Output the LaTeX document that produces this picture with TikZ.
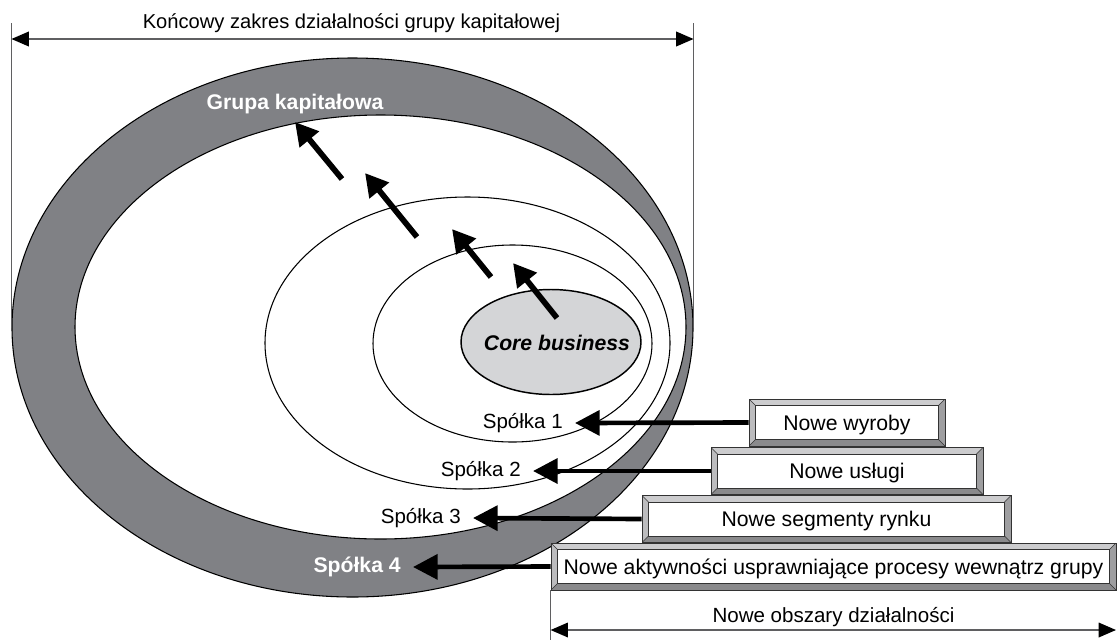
\documentclass[tikz,border=0pt]{standalone}
\usepackage{fontspec}
\setmainfont{Liberation Sans}
\usetikzlibrary{shapes.geometric, arrows.meta, positioning}

\definecolor{grupagray}{RGB}{128,129,133}
\definecolor{coregray}{RGB}{212,213,215}
\definecolor{bevtop}{RGB}{204,204,206}
\definecolor{bevside}{RGB}{188,188,190}
\definecolor{bevright}{RGB}{158,158,160}
\definecolor{bevdark}{RGB}{138,138,140}
\definecolor{dimgray}{RGB}{95,95,97}

\tikzset{
  ring/.style={ellipse, draw=black, line width=0.8pt, inner sep=0pt},
  bevbox/.style={rectangle, draw=black!80, line width=0.6pt, fill=bevside,
    inner sep=0pt, minimum height=35.25pt, text depth=0pt,
    font=\fontsize{15.9}{18}\selectfont,
    path picture={
      \coordinate (nw) at (path picture bounding box.north west);
      \coordinate (ne) at (path picture bounding box.north east);
      \coordinate (sw) at (path picture bounding box.south west);
      \coordinate (se) at (path picture bounding box.south east);
      \coordinate (inw) at ([shift={(4.9pt,-4.9pt)}]nw);
      \coordinate (ine) at ([shift={(-4.9pt,-4.9pt)}]ne);
      \coordinate (isw) at ([shift={(4.9pt,4.9pt)}]sw);
      \coordinate (ise) at ([shift={(-4.9pt,4.9pt)}]se);
      \fill[bevtop] (nw) -- (ne) -- (ine) -- (inw) -- cycle;
      \fill[bevright] (ne) -- (se) -- (ise) -- (ine) -- cycle;
      \fill[bevdark] (sw) -- (se) -- (ise) -- (isw) -- cycle;
      \draw[black!80, line width=0.5pt, fill=white] (inw) rectangle (ise);
      \draw[black!80, line width=0.4pt] (nw) -- (inw) (ne) -- (ine)
        (sw) -- (isw) (se) -- (ise);
    }},
  splab/.style={anchor=east, inner xsep=9pt, inner ysep=0pt},
  boldlab/.style={font=\fontsize{15.9}{18}\selectfont\bfseries},
  corefont/.style={font=\fontsize{15.9}{18}\selectfont\bfseries\itshape},
  bigarrow/.style={line width=3.5pt, -{Triangle[length=18.5pt, width=18.5pt]}},
  uparrow/.style={line width=4.3pt, -{Triangle[length=17pt, width=18pt]}},
  dimline/.style={draw=dimgray, line width=1pt},
  dimarrow/.style={dimline,
    {Triangle[length=13pt, width=11pt, color=black]}-{Triangle[length=13pt, width=11pt, color=black]}}
}

\begin{document}
\begin{tikzpicture}[x=0.75pt, y=-0.75pt, font=\fontsize{15.4}{18}\selectfont]
  \useasboundingbox (0,0) rectangle (1117,640);

  \node[ring, fill=grupagray, minimum width=681*0.75pt, minimum height=539*0.75pt] (grupa) at (352.5,327.5) {};
  \node[ring, fill=white, minimum width=611*0.75pt, minimum height=424*0.75pt] (grupain) at (380.5,327) {};
  \node[ring, minimum width=405*0.75pt, minimum height=292*0.75pt] (ring2) at (467.5,343) {};
  \node[ring, minimum width=279*0.75pt, minimum height=197*0.75pt] (ring1) at (512.5,343.5) {};
  \node[ring, fill=coregray, line width=1.1pt, minimum width=180*0.75pt, minimum height=105*0.75pt] (core) at (551,342) {};

  \node[corefont] (corelab) at (557,342.5) {Core business};
  \node[boldlab, text=white] (grupalab) at (295,104.5) {Grupa kapitałowa};

  \node[splab] (s1) at (575,423) {Spółka 1};
  \node[splab] (s2) at (533,471) {Spółka 2};
  \node[splab] (s3) at (473,518) {Spółka 3};
  \node[splab, boldlab, text=white] (s4) at (413,567) {Spółka 4};

  \node[bevbox, minimum width=196*0.75pt] (b1) at (847,422.5) {Nowe wyroby};
  \node[bevbox, minimum width=272*0.75pt] (b2) at (847,471) {Nowe usługi};
  \node[bevbox, minimum width=369*0.75pt] (b3) at (826.5,519) {Nowe segmenty rynku};
  \node[bevbox, minimum width=565*0.75pt] (b4) at (833.5,566.5) {Nowe aktywności usprawniające procesy wewnątrz grupy};

  \draw[bigarrow] (b1.west) -- (s1.east);
  \draw[bigarrow] (b2.west) -- (s2.east);
  \draw[bigarrow] (b3.west) -- (s3.east);
  \draw[bigarrow] (b4.west) -- (s4.east);

  \coordinate (u1s) at (557,318);
  \coordinate (u1e) at (513,263);
  \coordinate (u2s) at (491,277);
  \coordinate (u2e) at (452,229);
  \coordinate (u3s) at (417,237);
  \coordinate (u3e) at (365,173);
  \coordinate (u4s) at (342,179);
  \coordinate (u4e) at (295,122);
  \foreach \i in {1,...,4}
    \draw[uparrow] (u\i s) -- (u\i e);

  \coordinate (topl) at (grupa.west |- 0,23);
  \coordinate (topr) at (grupa.east |- 0,23);
  \draw[dimline] (grupa.west) -- (topl);
  \draw[dimline] (grupa.east) -- (topr);
  \draw[dimarrow] (grupa.west |- 0,39) -- (grupa.east |- 0,39);
  \node[anchor=base, font=\fontsize{15.1}{18}\selectfont] (zakres) at (351.5,28) {Końcowy zakres działalności grupy kapitałowej};

  \coordinate (botl) at (b4.south west |- 0,640);
  \draw[dimline] (b4.south west) -- (botl);
  \draw[dimarrow] (b4.south west |- 0,630) -- (1116,630);
  \node[anchor=base] (obszary) at (833.5,622) {Nowe obszary działalności};
\end{tikzpicture}
\end{document}
